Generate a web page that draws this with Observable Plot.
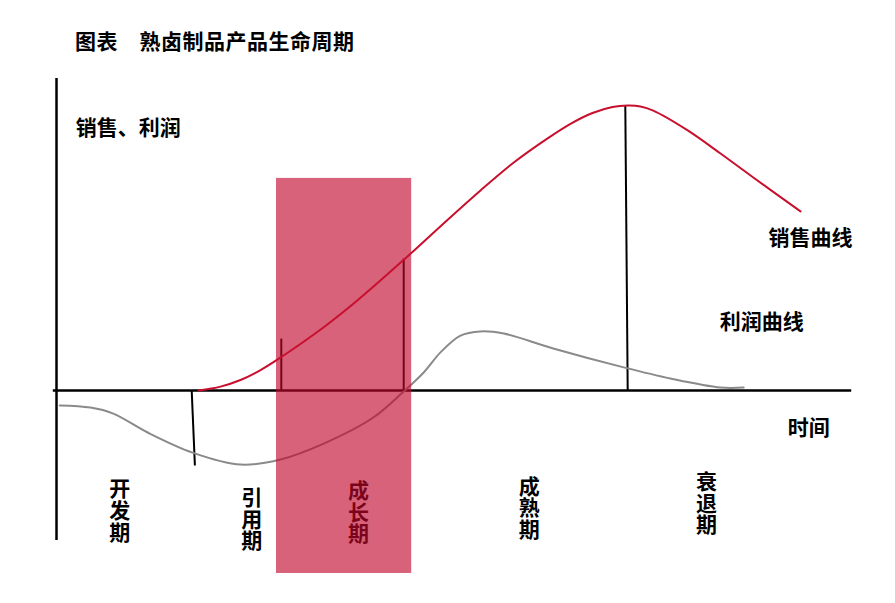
<!DOCTYPE html>
<html><head><meta charset="utf-8">
<script src="https://cdn.jsdelivr.net/npm/d3@7"></script>
<script src="https://cdn.jsdelivr.net/npm/@observablehq/plot@0.6"></script>
<style>
body{margin:0;background:#fff;}
#wrap{position:relative;width:895px;height:603px;}
#title{position:absolute;left:75px;top:25px;font:bold 21px "Noto Sans CJK SC",sans-serif;color:#000;letter-spacing:0.5px;white-space:pre;}
</style></head>
<body><div id="wrap"><div id="title">图表　熟卤制品产品生命周期</div></div>
<script>
// time axis t (0..100), value axis v (sales / profit)
const salesT = [17.75, 20.5, 23, 25.5, 28, 33.4, 37.6, 43.3, 48.8, 53, 57.2, 61.3, 64.25, 67, 69.5, 71.4, 73, 74.6, 78.9, 83, 87.1, 93];
const salesV = [0, 1.3, 3.5, 6.8, 11, 21.1, 30, 43.3, 56.7, 66.7, 76.1, 83.9, 88.9, 92.5, 94.5, 95, 94.7, 93.3, 86.7, 79, 71, 59.7];
const profitT = [0.4, 4.25, 7.1, 11.4, 17, 23, 28, 33.4, 39.6, 43.25, 45.9, 48, 50.5, 53, 55.9, 62.1, 70.9, 76.75, 83, 85.9];
const profitV = [-5, -5.7, -7.7, -14, -20.7, -24.7, -23, -17.7, -9, -0.7, 6, 12.7, 18.3, 19.7, 19, 14, 7.7, 4, 1, 1];
// stage boundary markers
const markerT1 = [16.9, 28.1, 43.4, 71.4];
const markerT2 = [17.3, 28.1, 43.4, 71.1];
const markerV1 = [0, 0, 0, 0];
const markerV2 = [-25, 17.3, 44, 95];
const stageNames = ["开发期", "引用期", "成长期", "成熟期", "衰退期"];
const stageT = [7.9, 24.4, 37.75, 59.1, 81.25];
const stageV = [-40.2, -43, -40.7, -39.3, -37.7];
// highlighted growth band
const bandT = [27.5, 44.4];
const bandV = [-61, 70.7];
const labelTexts = ["销售、利润", "销售曲线", "利润曲线", "时间"];
const labelT = [2.4, 89, 82.9, 91.4];
const labelV = [87.3, 50.7, 22.7, -12.5];

const sales = salesT.map((t, i) => ({t, v: salesV[i]}));
const profit = profitT.map((t, i) => ({t, v: profitV[i]}));
const markers = markerT1.map((t, i) => ({t1: t, t2: markerT2[i], v1: markerV1[i], v2: markerV2[i]}));
const stages = stageNames.map((n, i) => ({n: n.split("").join("\n"), t: stageT[i], v: stageV[i]}));
const labels = labelTexts.map((s, i) => ({s, t: labelT[i], v: labelV[i]}));

const font = "'Noto Sans CJK SC', sans-serif";
const chart = Plot.plot({
  width: 895, height: 603, margin: 0,
  x: {domain: [-7, 104.875], axis: null},
  y: {domain: [-71, 130], axis: null},
  style: {fontFamily: font, background: "transparent"},
  marks: [
    Plot.ruleX([0], {y1: -50, y2: 104, stroke: "#000", strokeWidth: 2.5}),
    Plot.ruleY([0], {x1: -0.4, x2: 99.4, stroke: "#000", strokeWidth: 2.5}),
    Plot.link(markers, {x1: "t1", x2: "t2", y1: "v1", y2: "v2", stroke: "#000", strokeWidth: 2}),
    Plot.line(profit, {x: "t", y: "v", curve: "catmull-rom", stroke: "#8a8a8a", strokeWidth: 2}),
    Plot.text(stages, {x: "t", y: "v", text: "n", fontSize: 21, fontWeight: "bold", fill: "#000", lineHeight: 1.04}),
    Plot.rect([{}], {x1: bandT[0], x2: bandT[1], y1: bandV[0], y2: bandV[1], fill: "#c0062a", fillOpacity: 0.63}),
    Plot.line(sales, {x: "t", y: "v", curve: "catmull-rom", stroke: "#c8102e", strokeWidth: 2}),
    Plot.text(labels, {x: "t", y: "v", text: "s", textAnchor: "start", fontSize: 21, fontWeight: "bold", fill: "#000"})
  ]
});
document.getElementById("wrap").prepend(chart);
chart.style.position = "absolute";
chart.style.left = "0";
chart.style.top = "0";
</script>
</body></html>
